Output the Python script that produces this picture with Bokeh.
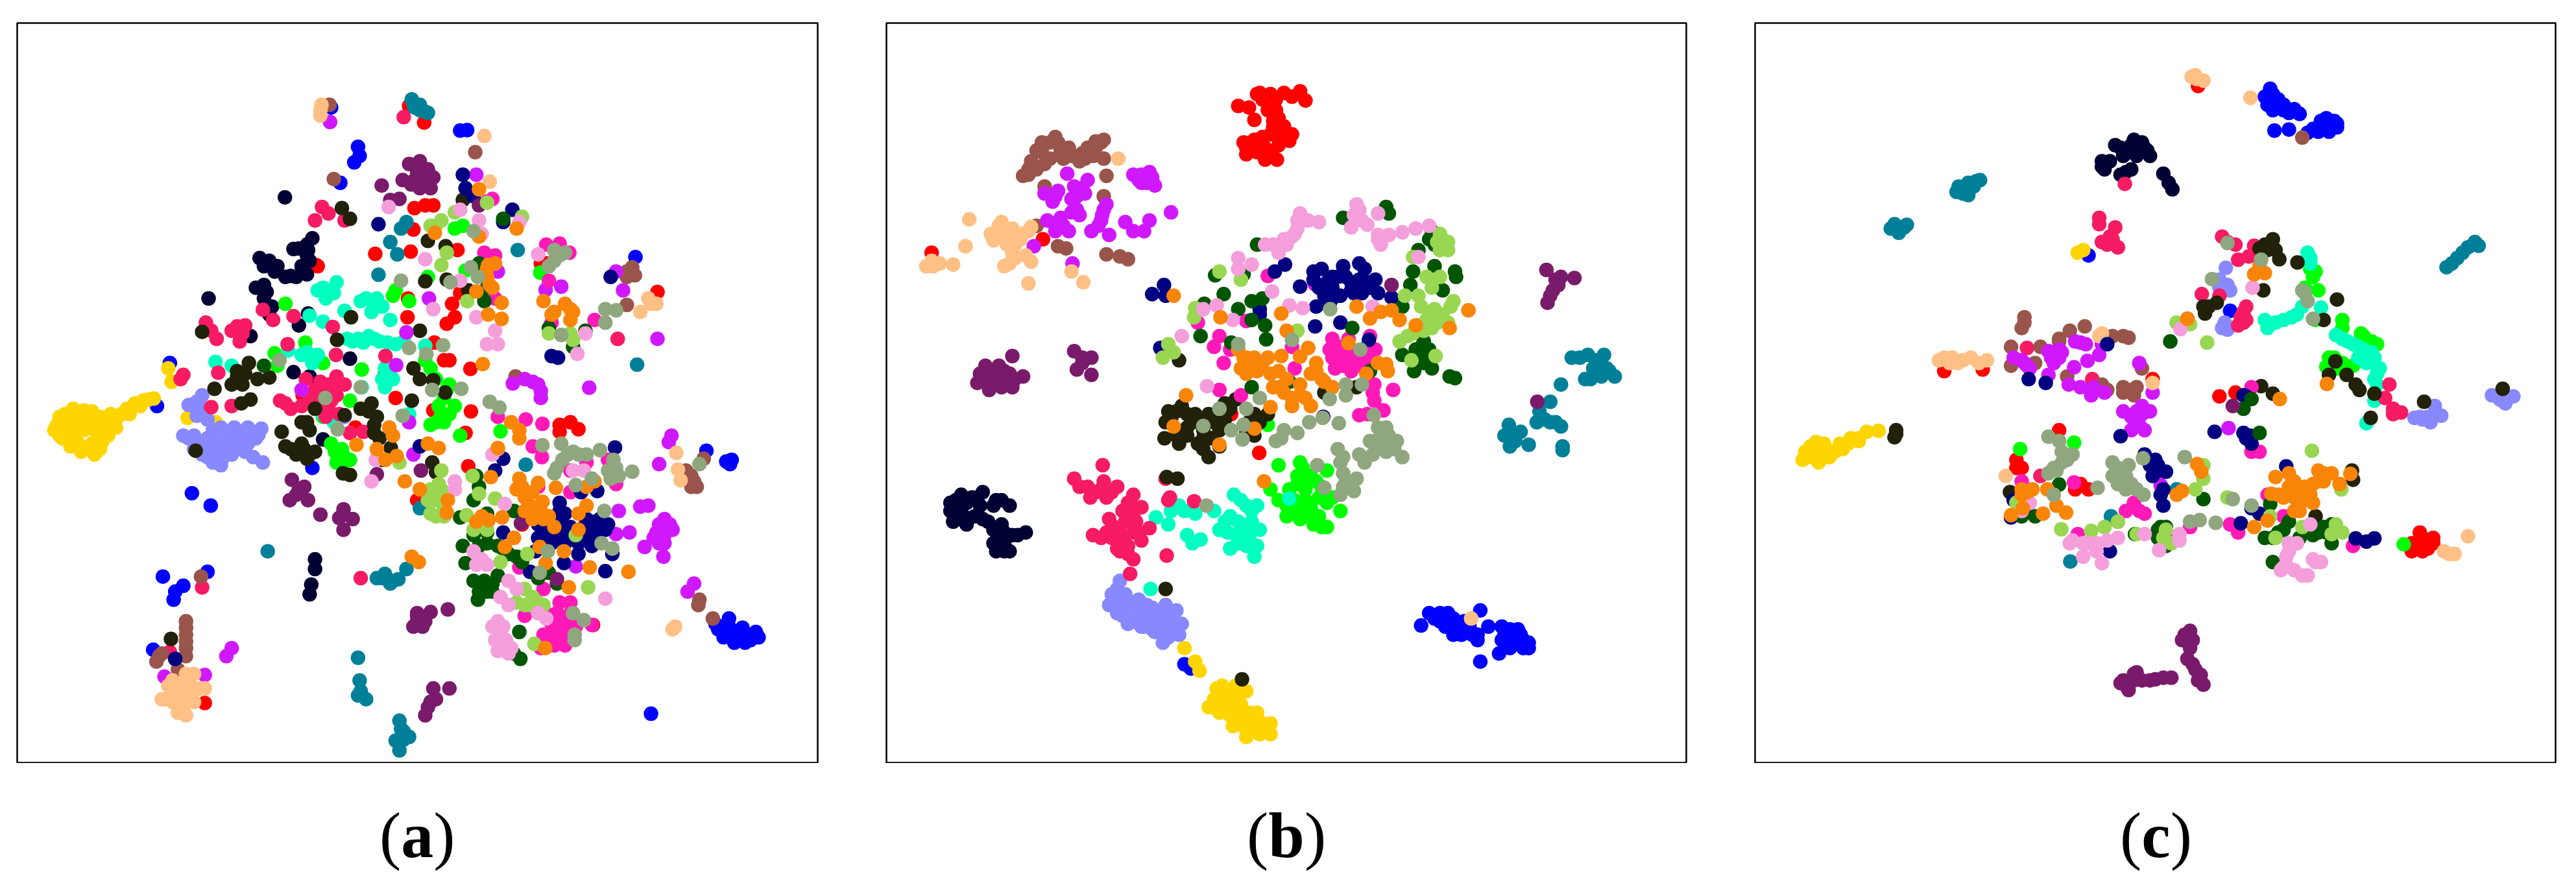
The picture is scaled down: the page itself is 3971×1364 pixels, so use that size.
from bokeh.plotting import figure
from bokeh.layouts import row, column
from bokeh.models import Div, Range1d
from bokeh.embed import file_html
from bokeh.resources import INLINE

class_colors = ["#FF0000", "#0000FF", "#FFD500", "#8888FF", "#000033", "#00FF00", "#00FFC0",
                "#F71B64", "#22220A", "#008098", "#99554B", "#D018FF", "#FFC086", "#FF1AB8",
                "#000080", "#005500", "#7A1A6B", "#99D652", "#F49FDB", "#F98508", "#8FA67F"]
panel_letters = ["a", "b", "c"]

# ---------- panel (a) ----------
a_red = [(760,172),(788,203),(790,357),(770,362),(805,357),(768,402),(697,447),(763,443),(850,440),(840,540),(855,520),(830,577),(845,565),(757,565),(758,530),(587,468),(1222,518),(1005,465),(807,612),(825,645),(835,645),(874,661),(875,740),(805,738),(865,780),(1040,765),(1060,760),(1075,773),(1040,778),(870,842),(775,905),(970,950),(640,855),(715,670),(735,715),(380,1282),(1102,1137),(660,770),(590,470),(562,710),(1015,465)]
a_blue = [(315,650),(291,730),(356,892),(391,915),(580,845),(615,175),(632,315),(855,218),(868,217),(665,248),(668,265),(658,277),(1181,453),(1313,813),(1350,833),(1357,838),(302,1047),(385,1038),(340,1064),(325,1075),(322,1090),(284,1183),(1210,1302),(1335,1145),(1355,1140),(1375,1150),(1395,1155),(1410,1160),(1385,1165),(1345,1160),(1365,1160),(1355,1125),(1380,1142),(1350,1150),(1370,1160),(1395,1165),(1345,1140),(1360,1150),(1360,830),(1405,1150),(1330,1135),(1365,1170),(1385,1170)]
a_gold = [(120,745),(105,765),(125,770),(145,750),(165,750),(185,750),(205,745),(225,745),(115,790),(135,790),(150,815),(175,820),(155,775),(175,775),(195,775),(215,770),(190,795),(170,800),(235,735),(250,725),(265,720),(285,716),(140,770),(125,760),(312,660),(318,685),(348,752),(400,760),(110,750),(135,735),(155,738),(175,762),(195,762),(215,755),(240,745),(115,775),(100,775),(130,805),(145,800),(165,810),(185,810),(150,760),(170,740),(200,785),(130,780),(260,730),(275,718),(110,785)]
a_peri = [(375,710),(350,728),(375,735),(385,755),(340,785),(360,785),(385,790),(410,770),(435,770),(460,770),(485,772),(475,790),(450,790),(425,800),(400,810),(375,805),(360,810),(385,825),(410,840),(430,820),(455,815),(470,825),(488,835),(420,785),(445,800),(640,750),(365,722),(365,748),(350,790),(370,795),(395,800),(415,790),(435,785),(460,785),(480,783),(395,775),(420,810),(440,810),(405,825),(395,835),(415,825),(460,800),(445,780),(375,820)]
a_dark = [(529,342),(387,530),(482,455),(500,460),(515,470),(530,490),(550,490),(570,485),(575,460),(545,438),(570,430),(580,418),(490,505),(475,510),(490,530),(505,545),(500,560),(555,580),(572,558),(545,667),(575,675),(650,642),(465,600),(600,792),(585,1015),(585,1033),(578,1062),(575,1080),(325,1200),(570,450),(510,480),(490,470),(540,488),(560,470),(572,440),(555,437),(495,518)]
a_lime = [(530,540),(567,612),(510,632),(515,655),(600,650),(735,515),(760,535),(795,490),(672,662),(1004,482),(865,478),(845,400),(860,395),(790,645),(800,660),(835,690),(825,715),(845,730),(820,745),(800,765),(825,760),(615,800),(635,810),(650,830),(635,840),(855,785),(930,777),(650,720),(600,750),(730,525),(810,680),(830,700),(815,730),(835,745),(810,760),(622,815),(640,825),(625,835)]
a_aqua = [(600,510),(625,500),(620,520),(605,530),(670,535),(700,530),(690,555),(725,570),(645,605),(665,605),(685,600),(705,610),(735,615),(640,553),(600,573),(575,562),(570,630),(590,635),(580,650),(535,627),(400,648),(430,655),(790,618),(715,660),(730,680),(715,695),(600,745),(620,760),(760,745),(672,695),(750,610),(610,515),(590,515),(680,530),(710,545),(695,540),(655,610),(675,612),(695,605),(720,612),(560,635),(578,640),(720,675),(710,680)]
a_crim = [(382,575),(392,590),(402,605),(430,590),(455,580),(445,610),(405,668),(340,672),(335,680),(392,732),(430,730),(488,551),(507,570),(545,563),(534,615),(618,583),(624,635),(716,637),(568,680),(595,685),(625,675),(640,690),(520,720),(540,735),(600,710),(625,710),(610,735),(630,745),(675,778),(650,780),(585,385),(598,360),(610,372),(640,385),(750,193),(1148,605),(315,1187),(375,1067),(670,1050),(585,700),(560,730),(610,690),(615,720),(595,725),(575,715),(530,725),(605,750),(620,700),(440,582),(450,595)]
a_olive = [(375,592),(462,650),(440,665),(430,690),(450,690),(478,680),(500,677),(398,698),(465,718),(448,725),(635,362),(650,382),(652,565),(626,607),(780,590),(768,660),(780,680),(805,682),(765,720),(827,705),(585,735),(570,760),(560,760),(575,775),(523,778),(530,805),(560,800),(550,820),(585,815),(570,828),(640,747),(670,735),(690,725),(700,750),(695,780),(705,790),(726,808),(710,830),(803,835),(810,853),(637,855),(650,858),(363,813),(790,498),(830,495),(795,423),(828,433),(860,347),(870,515),(317,1163),(440,675),(455,670),(565,810),(575,820),(540,810),(685,740),(695,765)]
a_teal = [(767,165),(780,180),(790,183),(755,388),(745,400),(725,425),(738,448),(703,486),(962,440),(1184,653),(497,1000),(700,1050),(715,1042),(730,1055),(755,1033),(665,1198),(668,1240),(665,1268),(680,1275),(742,1315),(750,1335),(735,1352),(760,1345),(742,1370),(977,839),(780,920),(725,1060),(770,175),(745,1330),(750,1350),(670,1260),(710,1050),(740,1052),(765,160),(780,170),(795,185)]
a_brown = [(620,308),(883,258),(958,675),(1175,472),(1165,490),(1180,487),(1165,542),(1308,828),(1285,860),(1295,880),(1275,850),(1298,1100),(1325,1125),(373,1047),(345,1130),(345,1155),(345,1180),(345,1195),(295,1195),(290,1205),(330,1220),(612,170),(345,1142),(345,1168),(300,1190),(1165,480),(1290,870),(1285,880),(1300,1090)]
a_violet = [(613,202),(885,300),(925,480),(1145,480),(1158,515),(1222,605),(1014,514),(1043,508),(797,530),(755,593),(736,654),(560,700),(953,688),(975,680),(1000,690),(1005,715),(1095,696),(1248,785),(1243,797),(1225,838),(1190,917),(1205,915),(1150,925),(1235,940),(1220,965),(1250,960),(1235,985),(1198,992),(1233,1010),(1170,965),(1145,968),(768,820),(1100,990),(1070,1028),(1290,1060),(1278,1075),(430,1180),(420,1195),(305,1233),(380,1230),(760,760),(1225,950),(1235,955),(1245,950),(1215,975),(1235,970),(1225,985),(990,685),(1005,702)]
a_peach = [(597,170),(595,190),(900,228),(910,313),(1205,530),(1220,540),(1190,555),(1257,817),(1260,848),(1265,868),(1255,1140),(1250,1145),(320,1240),(350,1240),(370,1255),(320,1265),(305,1275),(340,1275),(340,1295),(360,1280),(335,1250),(350,1260),(335,1262),(320,1280),(355,1268),(340,1285),(1210,540),(595,180),(325,1255),(300,1275),(330,1300),(345,1305),(380,1255),(345,1228),(360,1228),(312,1250)]
a_dpink = [(1015,430),(1040,428),(1058,445),(900,445),(920,450),(920,530),(1020,497),(1025,575),(1105,570),(925,750),(977,755),(1008,763),(990,805),(1007,825),(1015,1115),(1040,1095),(1060,1095),(1035,1115),(1050,1130),(1030,1150),(1010,1155),(1050,1150),(1030,1175),(1050,1175),(1005,1180),(1070,1140),(1100,1137),(1010,1070),(965,1030),(975,1120),(1010,1040),(1090,835),(1130,830),(1145,875),(905,350),(915,345),(1060,850),(1060,890),(1000,880),(1040,1120),(1040,1135),(1025,1135),(1060,1115),(1045,1160),(1020,1165),(1040,1165),(1030,1120),(1060,1135)]
a_navy = [(860,300),(865,325),(880,340),(703,392),(952,365),(935,388),(1025,637),(1037,640),(1135,490),(1143,807),(935,828),(920,850),(1080,890),(1110,888),(1040,910),(1050,930),(1035,950),(1015,960),(1000,975),(1025,985),(1050,985),(1075,985),(1100,990),(1115,940),(1100,960),(1125,960),(1085,955),(1060,955),(995,1000),(1048,1022),(1125,1037),(1138,1005),(935,965),(985,1038),(325,1200),(1000,950),(1075,1005),(780,805),(1040,925),(1040,940),(1090,975),(1110,975),(1130,950),(1060,970),(1040,970),(1020,972),(1090,940),(1105,945),(1075,970)]
a_dgreen = [(890,465),(905,510),(900,535),(1020,585),(1065,620),(1088,590),(935,382),(885,860),(890,880),(880,905),(905,930),(855,937),(955,925),(860,990),(865,1022),(880,970),(905,985),(925,990),(960,1010),(880,1055),(900,1055),(925,1045),(905,1075),(888,1090),(915,1075),(1000,1050),(970,1020),(1020,1040),(965,1150),(955,1190),(967,1200),(490,655),(1035,1060),(895,1065),(915,1060),(890,1075),(905,965),(890,990),(935,995),(885,960),(945,1005)]
a_purple = [(778,285),(795,290),(770,310),(790,315),(800,325),(748,310),(709,320),(725,347),(742,345),(780,275),(764,318),(542,867),(565,880),(550,895),(538,905),(572,905),(595,932),(638,922),(630,938),(655,940),(638,960),(700,857),(782,850),(890,357),(968,948),(1035,1052),(775,1115),(800,1113),(832,1108),(775,1130),(785,1140),(768,1140),(805,1255),(810,1275),(795,1290),(790,1305),(835,1255),(785,300),(775,295),(805,305),(780,325),(555,885),(785,1125),(790,1130),(800,1280),(775,1120),(760,280)]
a_lgreen = [(800,395),(820,385),(845,370),(905,352),(970,378),(820,468),(868,535),(830,445),(878,860),(890,893),(920,902),(800,885),(820,885),(810,905),(800,930),(825,935),(795,905),(867,933),(880,960),(905,960),(930,1020),(980,1005),(975,1070),(960,1095),(985,1100),(1010,1100),(1020,595),(1060,595),(1065,607),(1093,1067),(993,1172),(742,835),(820,850),(1070,970),(810,395),(805,895),(815,875),(825,920),(810,935),(990,1085),(975,1100),(1000,1095)]
a_pink = [(722,360),(855,365),(890,385),(895,410),(790,457),(855,497),(805,550),(885,565),(920,590),(905,615),(925,615),(1073,633),(1088,595),(1000,448),(965,388),(690,870),(698,830),(845,870),(845,885),(915,820),(925,810),(1065,850),(1085,850),(938,912),(880,1000),(885,1025),(905,1025),(945,1055),(930,1085),(945,1100),(1000,1115),(1015,1125),(925,1130),(930,1150),(940,1165),(925,1185),(945,1190),(1125,1088),(935,1140),(935,1175),(915,1140),(950,1180),(920,1165),(895,1015),(960,1070)]
a_orange = [(808,408),(890,327),(890,415),(960,400),(907,468),(920,465),(905,490),(885,517),(915,510),(1010,535),(1030,555),(1050,540),(1065,555),(1060,570),(932,538),(907,560),(932,568),(897,652),(950,760),(965,775),(965,790),(925,808),(723,770),(730,785),(700,810),(662,802),(795,800),(815,808),(737,823),(716,830),(752,870),(780,885),(832,905),(830,928),(765,1010),(778,1020),(912,862),(895,935),(885,945),(908,942),(933,937),(965,865),(960,885),(1000,873),(990,890),(1008,908),(975,925),(990,940),(1010,940),(1030,955),(1075,960),(1075,930),(1090,915),(1090,880),(1105,870),(1033,882),(955,975),(938,992),(1003,992),(1048,1000),(1014,1022),(1096,1030),(1168,1038),(1057,1067),(1013,1180),(1000,925),(985,915),(1020,935),(975,900),(1005,925),(1060,550),(1025,560),(905,475),(910,505),(970,880)]
a_sage = [(519,645),(604,715),(670,695),(627,773),(760,622),(792,633),(823,617),(745,497),(875,472),(888,490),(857,698),(803,700),(748,748),(910,722),(928,733),(880,405),(837,500),(1030,440),(1050,445),(1030,460),(1020,470),(1125,550),(1145,552),(1125,575),(1043,598),(1008,803),(1043,800),(1065,815),(1090,820),(1115,812),(1045,830),(1030,855),(1140,830),(1130,850),(1150,860),(1175,852),(1123,925),(1118,985),(1138,995),(1065,1115),(1085,1128),(1068,1155),(1068,1165),(1018,1000),(1003,1040),(1300,838),(1100,865),(1070,877),(1055,820),(1035,845),(1145,845),(1135,865),(1040,450),(1075,820)]

# ---------- panel (b) ----------
b_red = [(685,172),(705,175),(720,150),(745,150),(770,148),(800,145),(810,162),(740,180),(750,200),(715,198),(770,210),(745,225),(715,235),(695,240),(780,237),(760,245),(735,250),(700,262),(735,272),(757,272),(115,445),(322,420),(724,817),(672,745),(730,160),(755,160),(785,155),(725,148),(755,180),(760,195),(765,225),(730,230),(700,250),(720,258),(745,262),(770,228),(750,212),(785,225),(715,250)]
b_blue = [(1025,1138),(1040,1115),(1075,1115),(1060,1130),(1085,1140),(1105,1130),(1135,1110),(1130,1155),(1100,1155),(1150,1140),(1175,1140),(1170,1190),(1135,1205),(1190,1160),(1210,1155),(1225,1170),(1190,1180),(1215,1180),(585,1210),(597,1218),(1060,1115),(1085,1125),(1070,1140),(1100,1145),(1115,1140),(1120,1155),(1180,1155),(1200,1170),(1175,1165),(1205,1145),(1225,1180),(1050,1125),(1130,1165),(1190,1145),(1215,1165),(1085,1155)]
b_gold = [(585,1180),(605,1205),(613,1222),(655,1250),(665,1270),(630,1290),(650,1300),(680,1290),(700,1260),(690,1310),(710,1320),(720,1300),(745,1320),(745,1340),(700,1345),(725,1340),(675,1325),(645,1255),(660,1290),(670,1305),(690,1285),(685,1270),(705,1300),(730,1320),(715,1335),(695,1325),(640,1275),(740,1330),(680,1250)]
b_peri = [(465,1055),(450,1080),(475,1080),(445,1100),(470,1105),(500,1090),(495,1115),(525,1105),(550,1100),(570,1110),(480,1135),(505,1140),(530,1130),(555,1130),(580,1135),(530,1150),(555,1160),(575,1155),(510,1120),(545,1170),(460,1070),(455,1095),(485,1095),(460,1115),(490,1130),(515,1100),(510,1140),(540,1115),(565,1120),(540,1140),(565,1145),(545,1155),(525,1145),(470,1120),(500,1105),(520,1125)]
b_dark = [(150,910),(170,895),(190,900),(210,890),(165,925),(155,945),(180,950),(205,915),(235,905),(260,915),(220,945),(245,950),(240,975),(265,970),(290,965),(235,1000),(260,1000),(250,985),(160,905),(180,910),(200,900),(175,935),(195,935),(210,940),(230,915),(245,905),(230,960),(250,965),(275,970),(230,985),(250,1000),(165,940),(150,925)]
b_lime = [(760,840),(800,835),(745,885),(795,860),(820,860),(850,850),(780,885),(810,885),(840,880),(760,905),(775,935),(795,920),(820,920),(850,910),(875,925),(825,950),(850,955),(800,940),(740,765),(805,845),(810,870),(795,875),(830,870),(790,905),(810,905),(835,900),(860,900),(810,930),(835,935),(785,925),(840,955),(775,915)]
b_aqua = [(677,895),(700,915),(720,915),(532,937),(560,925),(585,925),(605,930),(555,950),(590,970),(600,985),(615,978),(640,925),(660,945),(685,945),(710,945),(650,960),(680,970),(705,965),(725,960),(670,995),(700,990),(715,1010),(522,1070),(780,902),(690,905),(710,925),(670,935),(695,955),(665,965),(685,985),(705,975),(720,990),(575,915)]
b_crim = [(433,840),(380,865),(405,880),(435,870),(460,880),(410,900),(440,900),(490,895),(495,920),(505,918),(445,940),(470,925),(495,945),(520,957),(415,970),(440,965),(465,965),(490,965),(460,995),(480,990),(505,980),(490,1015),(550,865),(558,900),(603,907),(552,1008),(484,1042),(555,905),(420,890),(390,880),(450,890),(430,885),(480,910),(490,935),(455,955),(475,945),(430,975),(450,975),(470,980),(480,1005),(465,1000),(500,965)]
b_olive = [(575,645),(555,740),(580,730),(605,745),(630,745),(660,725),(680,718),(550,760),(548,790),(575,800),(590,770),(620,775),(610,800),(630,825),(650,805),(650,775),(660,755),(700,780),(715,745),(740,745),(715,785),(845,705),(905,695),(552,862),(572,865),(550,1070),(692,1238),(570,740),(590,745),(615,755),(640,760),(600,760),(635,790),(620,790),(590,785),(570,785),(560,755),(670,735),(725,760),(705,760),(620,810)]
b_teal = [(1305,640),(1335,635),(1365,635),(1345,660),(1370,660),(1330,680),(1385,675),(1285,690),(1265,722),(1245,740),(1240,760),(1265,760),(1285,768),(1188,765),(1180,785),(1210,778),(1190,805),(1225,802),(1288,805),(1288,812),(1320,640),(1350,645),(1355,670),(1340,680),(1375,665),(1360,675),(1255,755),(1275,760),(1200,795),(1195,785)]
b_brown = [(320,240),(350,240),(370,250),(300,275),(285,302),(310,290),(335,270),(360,270),(395,260),(430,240),(415,265),(390,275),(435,270),(440,302),(325,322),(350,433),(365,437),(310,395),(435,340),(440,448),(465,452),(480,457),(335,240),(310,255),(295,290),(355,255),(375,265),(405,250),(420,250),(400,270),(325,280),(295,300),(345,230),(420,238),(435,235),(385,268),(320,258)]
b_violet = [(367,298),(325,335),(350,330),(340,350),(380,322),(405,310),(400,335),(375,345),(375,370),(390,375),(330,385),(355,380),(345,405),(370,405),(440,355),(432,375),(425,395),(412,405),(445,412),(475,388),(490,405),(510,405),(520,385),(560,370),(490,300),(520,295),(530,320),(515,315),(305,433),(377,465),(827,503),(345,340),(385,340),(395,325),(345,395),(360,395),(430,385),(385,365),(505,300),(505,315),(525,305),(500,310),(435,365)]
b_peach = [(462,270),(185,383),(178,433),(155,467),(118,470),(105,470),(130,465),(240,395),(265,400),(295,405),(230,422),(255,420),(280,420),(265,445),(260,465),(290,450),(300,462),(250,470),(295,502),(375,480),(397,500),(1118,1125),(245,405),(255,430),(275,410),(240,410),(270,430),(270,455),(115,460),(285,410),(225,410),(245,388),(300,397),(260,410)]
b_dpink = [(740,488),(610,575),(700,572),(650,600),(640,620),(670,625),(658,650),(785,620),(790,660),(860,605),(890,605),(855,625),(880,640),(905,640),(930,600),(940,625),(865,660),(895,665),(920,660),(650,700),(690,710),(938,690),(938,720),(955,738),(925,745),(910,747),(973,700),(875,620),(895,625),(915,625),(925,640),(900,650),(880,655),(860,640),(935,705)]
b_navy = [(525,522),(547,505),(550,525),(540,622),(753,480),(772,467),(800,508),(840,475),(825,495),(850,500),(880,470),(870,490),(845,525),(875,525),(910,465),(920,475),(910,495),(940,495),(915,520),(945,520),(970,528),(830,545),(725,550),(725,560),(828,582),(875,575),(928,607),(843,750),(895,515),(860,510),(835,510),(860,490),(885,490),(895,500),(925,500),(930,510),(860,530),(900,520),(855,540),(825,480)]
b_dgreen = [(960,360),(965,372),(880,380),(720,430),(642,487),(695,485),(658,522),(622,540),(685,550),(710,535),(730,530),(710,570),(735,580),(615,600),(672,612),(737,606),(897,585),(1045,405),(1050,430),(1020,440),(1050,470),(1088,480),(1090,490),(1010,480),(1005,505),(1065,515),(1030,610),(1040,625),(1015,625),(990,635),(1012,665),(1045,660),(1030,650),(1078,675),(1088,678),(710,695),(780,685),(930,665),(990,545),(1035,630),(1025,640),(1045,640),(1040,420),(1025,620)]
b_purple = [(1258,477),(1285,490),(1310,492),(1280,505),(1265,525),(1260,538),(215,655),(240,655),(265,637),(205,670),(235,675),(260,670),(285,675),(200,687),(222,700),(245,695),(265,695),(380,628),(395,640),(412,640),(385,662),(412,672),(970,505),(1241,722),(225,665),(250,665),(270,680),(215,685),(235,690),(255,685),(395,650),(1270,515),(1275,495)]
b_lgreen = [(650,480),(690,495),(1060,410),(1075,425),(1060,440),(1010,453),(1035,490),(1060,490),(1045,510),(995,525),(1020,525),(1025,545),(1085,535),(1080,545),(1045,560),(1065,560),(1020,580),(1045,585),(1075,575),(1000,600),(985,610),(1052,637),(1007,645),(605,548),(603,565),(555,615),(545,640),(565,630),(795,590),(1055,425),(1065,420),(1075,440),(1055,575),(1035,570),(1010,595),(1060,570),(1030,590),(1045,495),(1050,550)]
b_pink = [(800,372),(815,385),(835,388),(905,355),(900,375),(945,372),(895,398),(925,393),(945,412),(950,430),(965,412),(990,407),(1015,400),(1040,395),(795,400),(770,420),(750,430),(735,430),(760,445),(685,455),(710,467),(685,475),(748,517),(780,543),(805,548),(620,550),(645,543),(675,570),(580,600),(627,693),(935,545),(1020,453),(790,410),(910,365),(915,385),(905,385),(945,420),(775,430),(785,415),(795,385)]
b_orange = [(565,525),(652,565),(765,558),(775,590),(905,545),(930,567),(950,555),(970,552),(985,570),(1015,580),(1113,552),(1078,585),(890,613),(685,625),(700,640),(690,660),(715,640),(740,640),(720,665),(745,670),(765,637),(775,680),(800,638),(815,622),(830,650),(820,670),(845,685),(860,695),(750,695),(770,705),(800,710),(785,730),(820,730),(745,732),(588,710),(565,768),(650,802),(715,772),(733,870),(945,650),(960,652),(963,665),(923,670),(830,665),(800,690),(700,650),(710,655),(730,650),(700,670),(760,665),(695,640),(785,715),(810,715),(840,680),(760,695)]
b_sage = [(685,615),(785,607),(912,625),(856,550),(725,715),(700,735),(650,735),(695,765),(620,767),(672,775),(693,792),(885,690),(915,690),(885,710),(855,717),(755,795),(770,775),(795,780),(765,790),(817,760),(842,752),(872,762),(937,747),(945,770),(960,770),(930,795),(955,800),(980,795),(910,820),(935,820),(960,815),(990,825),(870,810),(875,835),(880,855),(905,865),(880,880),(900,888),(875,895),(832,840),(845,882),(626,915),(920,835),(950,785),(945,795),(965,785),(975,810),(945,810),(880,825),(885,870),(895,870)]

# ---------- panel (c) ----------
c_red = [(860,135),(385,665),(457,662),(600,775),(520,830),(530,845),(900,712),(930,705),(775,680),(640,875),(655,885),(630,885),(1260,985),(1280,975),(1300,985),(1280,1000),(1260,1000),(1270,985),(1290,995),(1275,965),(1285,985),(520,845),(1300,975)]
c_blue = [(995,140),(985,155),(1010,160),(1000,180),(1030,185),(1050,187),(1003,218),(1030,216),(1090,200),(1110,205),(1120,212),(1085,220),(1065,222),(1105,220),(655,450),(920,553),(1020,170),(1000,150),(1010,175),(1020,180),(990,170),(1040,178),(1100,195),(1115,200),(1095,212),(1075,215),(1120,205),(1000,165)]
c_gold = [(145,797),(125,815),(120,830),(150,835),(170,825),(190,800),(210,790),(225,795),(240,778),(262,776),(635,445),(645,440),(165,810),(195,810),(135,810),(150,815),(140,825),(130,825),(180,815),(205,800),(160,800),(225,790),(135,805)]
c_peri = [(912,473),(900,495),(920,515),(910,575),(915,588),(1410,710),(1440,715),(1430,705),(1265,752),(1290,750),(1303,730),(1315,748),(1450,712),(1435,725),(900,510),(915,505),(1280,755),(1295,760),(1275,750),(1420,712),(905,585),(1305,745),(1425,718)]
c_dark = [(705,245),(735,245),(755,240),(770,265),(745,265),(720,265),(680,275),(685,290),(725,295),(795,298),(805,315),(812,327),(745,255),(715,300),(715,250),(725,255),(765,255),(740,235),(760,250),(695,275),(735,290),(680,285)]
c_lime = [(527,810),(628,798),(1070,475),(1085,515),(1130,570),(1130,585),(1170,600),(1195,615),(1105,640),(1100,657),(1120,660),(1150,655),(1060,510),(1245,987),(1080,570),(1165,595),(1185,610),(1110,655),(1130,650),(1115,640),(1075,490),(1080,480)]
c_aqua = [(1065,445),(1070,465),(985,570),(990,585),(1020,570),(1045,560),(1055,545),(1090,547),(1118,598),(1140,610),(1160,620),(1185,630),(1175,650),(1200,660),(1190,680),(1190,720),(1175,762),(1160,640),(1070,455),(1150,615),(1175,635),(1190,650),(1195,670),(1195,690),(1005,575),(1035,565),(1130,605),(1170,625),(1190,640)]
c_crim = [(675,380),(675,392),(705,398),(680,425),(700,420),(710,435),(905,415),(930,430),(935,458),(955,452),(965,432),(867,522),(900,525),(950,545),(940,565),(935,580),(540,622),(662,680),(723,317),(1218,690),(1210,715),(1225,735),(1240,742),(565,860),(950,570),(690,430),(915,425),(945,555),(945,575),(1225,745),(695,415)]
c_olive = [(975,437),(1000,420),(1005,440),(1012,457),(1046,463),(1120,532),(295,775),(292,788),(870,545),(895,538),(873,558),(982,515),(840,568),(1117,647),(1105,672),(1138,672),(1155,690),(1162,700),(1190,707),(1183,752),(1283,722),(1430,698),(978,693),(1000,707),(508,890),(1148,850),(1150,867),(1095,570),(1080,935),(985,430),(990,440),(1000,435),(880,545),(295,782)]
c_teal = [(300,397),(300,408),(315,393),(425,325),(415,325),(430,338),(445,312),(1325,472),(1345,455),(1365,435),(1378,425),(1385,432),(621,1019),(697,935),(820,885),(310,398),(295,402),(430,315),(435,325),(420,335),(1375,430),(1355,445),(1335,465),(412,322),(440,322),(408,332),(452,310),(292,392),(285,400)]
c_brown = [(535,565),(530,585),(620,590),(648,582),(510,620),(510,655),(565,620),(600,610),(615,675),(680,690),(690,700),(720,600),(730,603),(700,600),(720,705),(745,695),(740,710),(755,660),(1055,231),(555,650),(535,575),(720,695),(735,700),(600,605)]
c_violet = [(515,640),(535,650),(545,660),(580,628),(605,630),(630,610),(650,615),(680,615),(675,635),(590,650),(653,646),(628,658),(580,672),(618,690),(640,695),(660,710),(685,705),(750,650),(775,705),(720,740),(745,740),(770,740),(740,755),(760,775),(735,775),(917,771),(790,877),(530,645),(600,625),(640,612),(540,655),(660,705),(735,750),(755,745),(750,765),(755,730),(585,640),(600,640),(665,695)]
c_peach = [(855,115),(870,125),(958,157),(385,640),(410,650),(435,640),(465,645),(450,650),(680,595),(675,600),(775,687),(500,860),(1320,1000),(1340,1005),(1365,972),(400,640),(420,645),(375,645),(395,650),(858,122),(1330,1005),(848,118)]
c_dpink = [(960,695),(960,815),(975,815),(530,870),(628,872),(740,910),(725,925),(750,925),(760,930),(635,968),(845,955),(920,950),(935,965),(990,895),(1020,935),(1150,990),(800,970),(710,945),(540,925)]
c_navy = [(543,680),(575,687),(690,615),(945,710),(950,712),(891,778),(945,780),(958,785),(960,800),(715,786),(760,820),(780,830),(800,852),(775,860),(790,895),(795,915),(1025,842),(960,920),(940,948),(975,930),(510,937),(515,905),(1155,976),(1175,982),(1190,976),(695,1000),(950,790),(785,840),(790,850),(770,840),(795,885)]
c_dgreen = [(808,610),(945,735),(975,780),(960,717),(600,876),(870,903),(530,935),(555,935),(742,968),(790,955),(785,975),(800,990),(790,965),(985,975),(1010,965),(1030,945),(1065,965),(1085,965),(1110,950),(1110,985),(1000,1020),(995,912),(1000,975),(1020,960),(1050,975),(1075,970),(1100,965),(1120,960),(785,960),(800,955),(1095,955)]
c_purple = [(845,1148),(830,1165),(850,1165),(840,1200),(855,1220),(860,1240),(870,1248),(810,1235),(780,1238),(755,1240),(740,1228),(720,1240),(730,1258),(740,1240),(925,730),(835,1155),(845,1180),(850,1210),(865,1230),(795,1235),(770,1240),(725,1250),(715,1245),(745,1225)]
c_lgreen = [(820,575),(845,578),(877,612),(870,840),(870,865),(855,885),(1073,813),(604,959),(660,962),(685,955),(710,945),(745,968),(800,960),(795,975),(810,985),(915,900),(1005,975),(1055,955),(1118,950),(1110,968),(1130,965),(1128,885),(995,935),(520,910)]
c_pink = [(827,587),(962,510),(620,985),(645,985),(670,985),(710,975),(645,1010),(670,1000),(680,1022),(760,968),(787,998),(825,968),(825,980),(1030,985),(1045,985),(1025,1010),(1015,1035),(1040,1035),(1065,1045),(1075,1015),(1090,1020),(1070,950),(545,910),(530,925),(625,980),(655,985),(690,980),(1025,1025),(1030,1000),(1055,1045),(1080,1020),(1020,1030)]
c_orange = [(840,568),(975,470),(965,485),(985,483),(1013,717),(1101,689),(530,885),(550,885),(530,895),(578,885),(595,915),(613,928),(570,930),(532,920),(510,933),(820,895),(830,888),(858,838),(866,852),(1005,862),(1030,855),(1040,870),(1010,895),(1040,900),(1060,880),(1075,875),(1095,855),(1110,855),(1125,875),(1085,850),(1145,856),(1050,925),(1075,910),(1040,925),(990,943),(965,955),(1060,905),(997,893),(1045,895),(1050,910),(1070,895),(1085,870),(1095,870),(1055,890),(1030,880),(1020,900),(540,890)]
c_sage = [(915,427),(886,494),(978,458),(1060,520),(1065,535),(1075,568),(1055,515),(580,787),(600,795),(625,820),(605,835),(590,845),(580,855),(590,895),(672,882),(700,835),(715,855),(730,840),(710,875),(725,885),(745,885),(758,895),(757,827),(835,825),(845,945),(863,942),(893,947),(925,903),(960,915),(710,845),(725,860),(700,860),(720,870),(735,875),(605,815),(615,830),(595,850)]

panel_a = [a_red,a_blue,a_gold,a_peri,a_dark,a_lime,a_aqua,a_crim,a_olive,a_teal,a_brown,a_violet,a_peach,a_dpink,a_navy,a_dgreen,a_purple,a_lgreen,a_pink,a_orange,a_sage]
panel_b = [b_red,b_blue,b_gold,b_peri,b_dark,b_lime,b_aqua,b_crim,b_olive,b_teal,b_brown,b_violet,b_peach,b_dpink,b_navy,b_dgreen,b_purple,b_lgreen,b_pink,b_orange,b_sage]
panel_c = [c_red,c_blue,c_gold,c_peri,c_dark,c_lime,c_aqua,c_crim,c_olive,c_teal,c_brown,c_violet,c_peach,c_dpink,c_navy,c_dgreen,c_purple,c_lgreen,c_pink,c_orange,c_sage]


def make_panel(series, letter, width, left, right, xmax, label_left):
    p = figure(width=width, height=1176, output_backend="svg", toolbar_location=None,
               x_axis_type=None, y_axis_type=None,
               x_range=Range1d(31, xmax), y_range=Range1d(1393, 18),
               min_border_left=left, min_border_right=right,
               min_border_top=35, min_border_bottom=1,
               background_fill_color="white", border_fill_color="white")
    p.grid.visible = False
    p.outline_line_color = "black"
    p.outline_line_width = 2.5
    for pts, col in zip(series, class_colors):
        p.scatter([q[0] for q in pts], [q[1] for q in pts], size=22.5,
                  fill_color=col, line_color=None)
    caption = Div(text=f"(<b>{letter}</b>)", width=300, height=120, margin=(62, 0, 0, label_left),
                  styles={"font-family": "'Liberation Serif'", "font-size": "100px",
                          "line-height": "100px", "color": "black", "white-space": "nowrap"})
    return column(p, caption, spacing=0)


fig_a = make_panel(panel_a, panel_letters[0], 1313, 26, 53, 1520, 585)
fig_b = make_panel(panel_b, panel_letters[1], 1339, 53, 53, 1518, 609)
fig_c = make_panel(panel_c, panel_letters[2], 1308, 53, 21, 1529, 616)

layout = row(fig_a, fig_b, fig_c, spacing=0)
open("out.html", "w").write(file_html(layout, INLINE))
